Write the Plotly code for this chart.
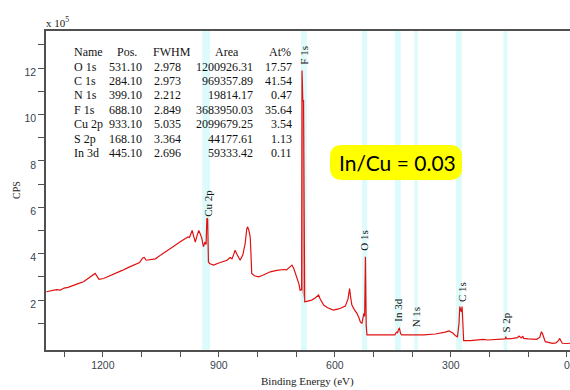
import plotly.graph_objects as go

# ---------------- data ----------------
energy_ev = [1346, 1330, 1320, 1310, 1300, 1290, 1276, 1262, 1250, 1236, 1225, 1220, 1214, 1210,
             1198, 1185, 1175, 1164, 1150, 1135, 1121, 1105, 1097, 1093, 1088, 1076, 1064, 1050,
             1034, 1020, 1010, 1000, 990, 980, 976, 969, 965, 961, 956, 952, 948, 944, 940, 936,
             933, 931, 929, 927, 924, 914, 900, 890, 879, 871, 866, 862, 858, 854, 845, 838, 832,
             828, 826, 823, 819, 817, 815, 808, 797, 785, 767, 750, 733, 725, 718, 711, 706, 702,
             698, 693, 690, 686, 685, 683, 681, 679, 678, 670, 660, 652, 645, 642, 638, 629, 620,
             604, 590, 580, 573, 566, 562, 559, 556, 550, 543, 538, 534, 530, 527, 525, 523, 521,
             519, 518, 517, 500, 470, 445, 441, 438, 435, 433, 430, 427, 400, 370, 340, 325, 315,
             305, 295, 287, 283, 279, 277, 275, 273, 271, 269, 267, 250, 230, 216, 205, 190, 175,
             160, 158, 155, 140, 128, 124, 121, 118, 114, 112, 100, 78, 70, 66, 63, 60, 56, 45,
             38, 28, 22, 19, 16, 12, 0, -8]
cps_1e5 = [2.36, 2.40, 2.45, 2.43, 2.52, 2.55, 2.65, 2.72, 2.79, 2.95, 3.10, 3.15, 3.00, 2.90,
           2.93, 3.02, 3.08, 3.15, 3.28, 3.40, 3.50, 3.62, 3.82, 3.84, 3.72, 3.74, 3.78, 3.95,
           4.12, 4.28, 4.40, 4.52, 4.62, 4.72, 4.70, 5.00, 4.75, 4.50, 4.80, 5.00, 4.85, 4.66, 4.30, 4.50,
           4.40, 5.53, 5.50, 3.65, 3.58, 3.51, 3.60, 3.66, 3.72, 3.84, 3.78, 3.95, 4.15, 4.00, 3.72, 3.95, 4.44,
           5.05, 5.16, 5.05, 4.73, 4.00, 3.15, 3.05, 3.00, 3.08, 3.22, 3.28, 3.32, 3.30, 3.40, 3.51, 3.35, 3.15,
           3.00, 2.70, 2.43, 2.45, 11.90, 10.60, 10.60, 2.00, 1.93, 1.96, 2.00, 2.08, 2.20, 2.22, 2.05, 1.79, 1.68,
           1.57, 1.62, 1.68, 1.74, 2.05, 2.50, 2.10, 1.79, 1.60, 1.43, 1.25, 1.05, 1.00, 1.30, 1.43, 1.30, 3.87,
           0.90, 0.64, 0.50, 0.50, 0.50, 0.50, 0.62, 0.60, 0.75, 0.78, 0.55, 0.50, 0.50, 0.50, 0.54, 0.58, 0.62,
           0.67, 0.58, 0.45, 0.42, 1.00, 1.72, 1.60, 1.50, 1.72, 1.20, 0.25, 0.25, 0.28, 0.31, 0.28, 0.30, 0.32,
           0.33, 0.40, 0.33, 0.35, 0.38, 0.45, 0.42, 0.37, 0.45, 0.35, 0.33, 0.31, 0.40, 0.64, 0.55, 0.35, 0.21, 0.17,
           0.14, 0.16, 0.25, 0.35, 0.25, 0.14, 0.13, 0.14]

# peak labels & highlighted bands (as drawn in the picture)
peak_names = ["Cu 2p", "F 1s", "O 1s", "In 3d", "N 1s", "C 1s", "S 2p"]
band_center_ev = [933, 680, 523, 437, 390, 279, 159]
band_width_ev = [20, 15, 13, 15, 9, 15, 10]
label_x_ev = [926.5, 679, 523.5, 437.7, 389.5, 271, 156.5]
label_y_1e5 = [6.18, 12.55, 4.58, 1.57, 1.27, 2.35, 1.05]

# quantification table
table_header = ["Name", "Pos.", "FWHM", "Area", "At%"]
table_name = ["O 1s", "C 1s", "N 1s", "F 1s", "Cu 2p", "S 2p", "In 3d"]
table_pos = ["531.10", "284.10", "399.10", "688.10", "933.10", "168.10", "445.10"]
table_fwhm = ["2.978", "2.973", "2.212", "2.849", "5.035", "3.364", "2.696"]
table_area = ["1200926.31", "969357.89", "19814.17", "3683950.03", "2099679.25", "44177.61", "59333.42"]
table_at = ["17.57", "41.54", "0.47", "35.64", "3.54", "1.13", "0.11"]

ratio_text = "In/Cu = 0.03"

y_tick_vals = [2, 4, 6, 8, 10, 12]
y_minor_vals = [1, 3, 5, 7, 9, 11, 13]
x_tick_vals = [1200, 900, 600, 300, 0]
x_minor_vals = [1300, 1100, 1000, 800, 700, 500, 400, 200, 100]

# ---------------- figure ----------------
W, H = 570, 390
L, R, T, B = 46, 0, 31, 40
pw, ph = W - L - R, H - T - B


def px(xp):
    return (xp - L) / pw


def py(yp):
    return (H - B - yp) / ph


fig = go.Figure()

# F 1s filled peak component
fig.add_trace(go.Scatter(x=energy_ev[81:86], y=cps_1e5[81:86], mode="lines", fill="toself",
                         fillcolor="rgba(225,90,90,0.55)", line=dict(width=0),
                         hoverinfo="skip", showlegend=False))

fig.add_trace(go.Scatter(x=energy_ev, y=cps_1e5, mode="lines",
                         line=dict(color="#e01010", width=1.2), showlegend=False))

shapes = []
for c, w in zip(band_center_ev, band_width_ev):
    shapes.append(dict(type="rect", xref="x", yref="y domain", x0=c - w / 2, x1=c + w / 2,
                       y0=0, y1=1, fillcolor="#ddfbfb", line=dict(width=0), layer="below"))

# rounded yellow callout box (pixel geometry converted to paper coords)
bx0, bx1, by0, by1, rad = 330, 462, 145, 180, 12


def pt(x, y):
    return f"{px(x):.5f},{py(y):.5f}"


box_path = ("M " + pt(bx0 + rad, by0) + " L " + pt(bx1 - rad, by0) +
            " Q " + pt(bx1, by0) + " " + pt(bx1, by0 + rad) + " L " + pt(bx1, by1 - rad) +
            " Q " + pt(bx1, by1) + " " + pt(bx1 - rad, by1) + " L " + pt(bx0 + rad, by1) +
            " Q " + pt(bx0, by1) + " " + pt(bx0, by1 - rad) + " L " + pt(bx0, by0 + rad) +
            " Q " + pt(bx0, by0) + " " + pt(bx0 + rad, by0) + " Z")
shapes.append(dict(type="path", xref="paper", yref="paper", path=box_path,
                   fillcolor="#ffff00", line=dict(width=0), layer="above"))

serif = "Liberation Serif"
ann = []
for name, lx, ly in zip(peak_names, label_x_ev, label_y_1e5):
    ann.append(dict(x=lx, y=ly, xref="x", yref="y", text=name, textangle=-90, showarrow=False,
                    font=dict(family=serif, size=11, color="#111")))

# table
row_y = [66.5 + 14.45 * i for i in range(7)]
head_y = 52.5
tfont = dict(family=serif, size=12, color="#111")
head_pos = [(71.7, "left"), (127, "center"), (171.7, "center"), (227, "center"), (279.5, "center")]
for h, (hx, anc) in zip(table_header, head_pos):
    ann.append(dict(x=px(hx), y=py(head_y), xref="paper", yref="paper", text=h, showarrow=False,
                    xanchor=anc, yanchor="middle", font=tfont))
cols = [(table_name, 71.7, "left"), (table_pos, 144.3, "right"), (table_fwhm, 182.7, "right"),
        (table_area, 255, "right"), (table_at, 294, "right")]
for vals, cx, anc in cols:
    for v, ry in zip(vals, row_y):
        ann.append(dict(x=px(cx), y=py(ry), xref="paper", yref="paper", text=v, showarrow=False,
                        xanchor=anc, yanchor="middle", font=tfont))

# ratio callout text
ann.append(dict(x=px(397), y=py(162), xref="paper", yref="paper", text=ratio_text, showarrow=False,
                xanchor="center", yanchor="middle",
                font=dict(family="Lato", size=21, color="#000")))

# axis titles and exponent
ann.append(dict(x=px(307), y=py(381.5), xref="paper", yref="paper", text="Binding Energy (eV)",
                showarrow=False, xanchor="center", yanchor="middle",
                font=dict(family=serif, size=11, color="#222")))
ann.append(dict(x=px(16), y=py(190), xref="paper", yref="paper", text="CPS", textangle=-90,
                showarrow=False, xanchor="center", yanchor="middle",
                font=dict(family=serif, size=10, color="#222")))
ann.append(dict(x=px(44), y=py(22), xref="paper", yref="paper", text="x 10<sup>5</sup>",
                showarrow=False, xanchor="left", yanchor="middle",
                font=dict(family=serif, size=11, color="#222")))

tickfont = dict(family="Liberation Sans", size=10.5, color="#3a3f4f")
fig.update_layout(
    width=W, height=H, margin=dict(l=L, r=R, t=T, b=B),
    paper_bgcolor="white", plot_bgcolor="white",
    shapes=shapes, annotations=ann,
    xaxis=dict(range=[1347, -8], showgrid=False, zeroline=False, showline=True, linecolor="#505050",
               linewidth=1.5, mirror=True, ticks="outside", ticklen=5, tickcolor="#505050",
               tickvals=x_tick_vals, ticktext=[str(v) for v in x_tick_vals], tickfont=tickfont,
               minor=dict(tickvals=x_minor_vals, ticks="outside", ticklen=5, tickcolor="#505050")),
    yaxis=dict(range=[-0.15, 13.6], showgrid=False, zeroline=False, showline=True, linecolor="#505050",
               linewidth=1.5, ticks="outside", ticklen=6, tickcolor="#505050",
               tickvals=y_tick_vals, ticktext=[str(v) for v in y_tick_vals], tickfont=tickfont,
               ticklabelshift=4,
               minor=dict(tickvals=y_minor_vals, ticks="outside", ticklen=6, tickcolor="#505050")),
)

fig.write_html("out.html", config={"displayModeBar": False},
               post_script="document.body.style.margin='0';document.body.style.overflow='hidden';")
